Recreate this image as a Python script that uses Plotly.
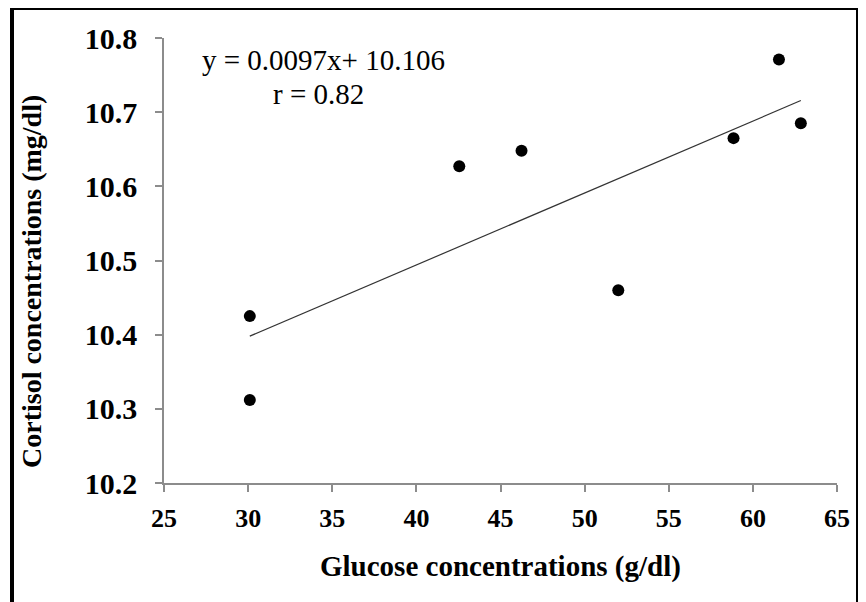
import plotly.graph_objects as go

# Data
glucose = [30.1, 30.1, 42.55, 46.25, 52.0, 58.85, 61.55, 62.85]
cortisol = [10.425, 10.312, 10.627, 10.648, 10.46, 10.665, 10.771, 10.685]

# Trend line equation shown on the chart
slope = 0.0097
intercept = 10.106
trend_x = [min(glucose), max(glucose)]
trend_y = [slope * v + intercept for v in trend_x]

x_ticks = [25, 30, 35, 40, 45, 50, 55, 60, 65]
y_ticks = [10.2, 10.3, 10.4, 10.5, 10.6, 10.7, 10.8]

SERIF = "Liberation Serif"

# page offset (body margin) of the rendered page
OFF = 8
W, H = 866, 602
L, T = 164 - OFF, 38 - OFF
R = W - (837 - OFF)
B = H - (483 - OFF)
pw, ph = W - L - R, H - T - B

def px(xp):
    return (xp - OFF - L) / pw

def py(yp):
    return (H - B - (yp - OFF)) / ph

fig = go.Figure()
fig.add_trace(go.Scatter(x=trend_x, y=trend_y, mode="lines",
                         line=dict(color="#333333", width=1.2),
                         hoverinfo="skip", showlegend=False))
fig.add_trace(go.Scatter(x=glucose, y=cortisol, mode="markers",
                         marker=dict(color="black", size=12),
                         showlegend=False))

fig.update_layout(
    width=W, height=H,
    margin=dict(l=L, r=R, t=T, b=B),
    paper_bgcolor="white", plot_bgcolor="white",
    font=dict(family=SERIF, color="black"),
    xaxis=dict(range=[25, 65], tickvals=x_ticks, ticktext=[str(v) for v in x_ticks],
               showgrid=False, zeroline=False, showline=True,
               linecolor="#8c8c8c", linewidth=1.5,
               ticks="outside", ticklen=7, tickcolor="#8c8c8c", tickwidth=1.5,
               ticklabelstandoff=4,
               tickfont=dict(family=SERIF, size=26, color="black", weight="bold")),
    yaxis=dict(range=[10.2, 10.8], tickvals=y_ticks,
               ticktext=[f"{v:.1f}" for v in y_ticks],
               showgrid=False, zeroline=False, showline=True,
               linecolor="#8c8c8c", linewidth=1.5,
               ticks="outside", ticklen=7, tickcolor="#8c8c8c", tickwidth=1.5,
               ticklabelstandoff=12,
               tickfont=dict(family=SERIF, size=30, color="black", weight="bold")),
    shapes=[dict(type="rect", xref="paper", yref="paper",
                 x0=px(12), x1=px(858), y0=py(615), y1=py(8),
                 line=dict(color="black", width=4), layer="below")],
    annotations=[
        dict(text="Glucose concentrations (g/dl)", xref="paper", yref="paper",
             x=px(500), y=py(566), showarrow=False, xanchor="center", yanchor="middle",
             font=dict(family=SERIF, size=29, color="black", weight="bold")),
        dict(text="Cortisol concentrations (mg/dl)", xref="paper", yref="paper",
             x=px(31), y=py(282), showarrow=False, textangle=-90,
             xanchor="center", yanchor="middle",
             font=dict(family=SERIF, size=28, color="black", weight="bold")),
        dict(text="y = 0.0097x+ 10.106", xref="paper", yref="paper",
             x=px(323), y=py(60), showarrow=False, xanchor="center", yanchor="middle",
             font=dict(family=SERIF, size=29, color="black")),
        dict(text="r = 0.82", xref="paper", yref="paper",
             x=px(318), y=py(94), showarrow=False, xanchor="center", yanchor="middle",
             font=dict(family=SERIF, size=29, color="black")),
    ],
)

fig.write_html("out.html")
